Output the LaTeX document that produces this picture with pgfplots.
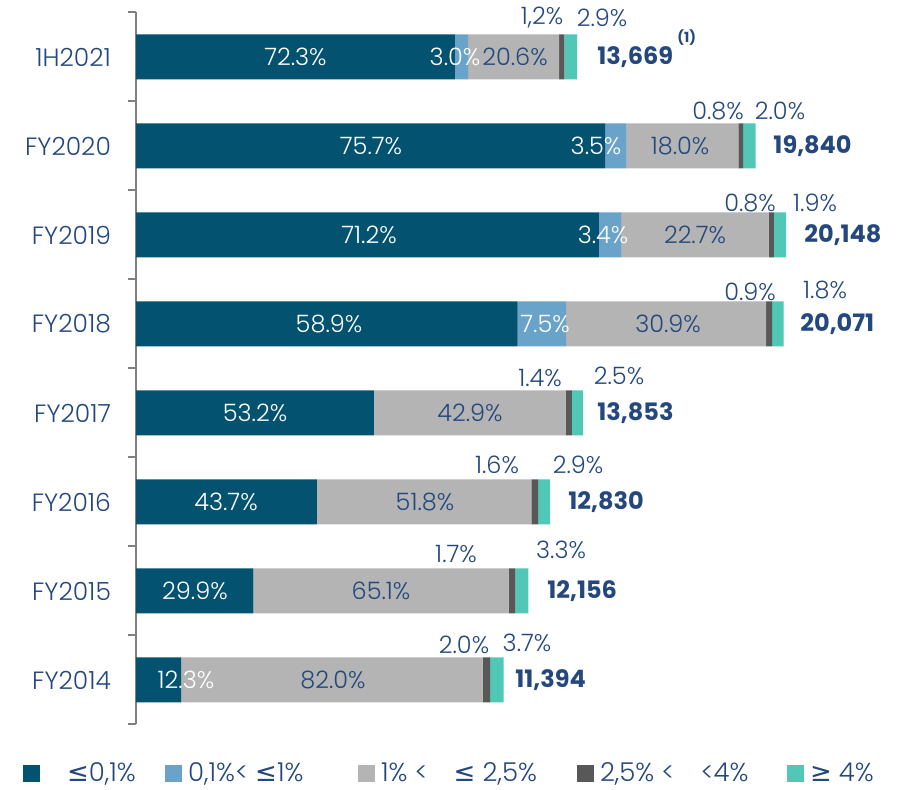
\documentclass[border=0pt]{standalone}
\usepackage{pgfplots}
\pgfplotsset{compat=1.18}
\usepackage{pgfplotstable}
\usepackage{fontspec}
\setmainfont{Poppins}[UprightFont=* Light, BoldFont=* Bold]
\newfontfamily\symfont{DejaVu Sans}
\definecolor{c1}{RGB}{2,82,112}
\definecolor{c2}{RGB}{106,163,202}
\definecolor{c3}{RGB}{179,180,179}
\definecolor{c4}{RGB}{88,88,88}
\definecolor{c5}{RGB}{80,200,181}
\definecolor{txt}{RGB}{36,72,126}
\definecolor{axg}{RGB}{128,128,128}
\newcommand{\lesym}{{\symfont ≤}}
\newcommand{\gesym}{{\symfont ≥}}
\tikzset{
  wl/.style={font=\fontsize{12}{14}\selectfont, text=white, inner sep=0pt},
  bl/.style={font=\fontsize{12}{14}\selectfont, text=txt, inner sep=0pt},
  tl/.style={font=\fontsize{12}{14}\selectfont\bfseries, text=txt, anchor=west, inner sep=0pt},
  sup/.style={font=\fontsize{7}{8}\selectfont\bfseries, text=txt, anchor=west, inner sep=0pt},
}
% y: 0 = FY2014 ... 7 = 1H2021; len = drawn bar length; p1..p5 = shares (%)
\pgfplotstableread{
y len p1 p2 p3 p4 p5
0 11394 12.3 0 82.0 2.0 3.7
1 12156 29.9 0 65.1 1.7 3.3
2 12830 43.7 0 51.8 1.6 2.9
3 13853 53.2 0 42.9 1.4 2.5
4 20071 58.9 7.5 30.9 0.9 1.8
5 20148 71.2 3.4 22.7 0.8 1.9
6 19200 75.7 3.5 18.0 0.8 2.0
7 13669 72.3 3.0 20.6 1.2 2.9
}\data
\newcommand{\barlabels}{%
% 1H2021
\node[wl] at (axis cs:4941,7) {72.3\%};
\node[wl] at (axis cs:9886,7) {3.0\%};
\node[bl] at (axis cs:11745,7) {20.6\%};
\node[bl] at (axis cs:12582,7.438) {1,2\%};
\node[bl] at (axis cs:14441,7.438) {2.9\%};
\node[tl] at (axis cs:14286,7) {13,669};
\node[sup] at (axis cs:16766,7.213) {(1)};
% FY2020
\node[wl] at (axis cs:7283,6) {75.7\%};
\node[wl] at (axis cs:14255,6) {3.5\%};
\node[bl] at (axis cs:16859,6) {18.0\%};
\node[bl] at (axis cs:18036,6.393) {0.8\%};
\node[bl] at (axis cs:19957,6.393) {2.0\%};
\node[tl] at (axis cs:19741,6) {19,840};
% FY2019
\node[wl] at (axis cs:7221,5) {71.2\%};
\node[wl] at (axis cs:14472,5) {3.4\%};
\node[bl] at (axis cs:17323,5) {22.7\%};
\node[bl] at (axis cs:19028,5.36) {0.8\%};
\node[bl] at (axis cs:21042,5.36) {1.9\%};
\node[tl] at (axis cs:20701,5) {20,148};
% FY2018
\node[wl] at (axis cs:5981,4) {58.9\%};
\node[wl] at (axis cs:12675,4) {7.5\%};
\node[bl] at (axis cs:16487,4) {30.9\%};
\node[bl] at (axis cs:19028,4.36) {0.9\%};
\node[bl] at (axis cs:21352,4.38) {1.8\%};
\node[tl] at (axis cs:20577,4) {20,071};
% FY2017
\node[wl] at (axis cs:3688,3) {53.2\%};
\node[bl] at (axis cs:10351,3) {42.9\%};
\node[bl] at (axis cs:12520,3.393) {1.4\%};
\node[bl] at (axis cs:14968,3.416) {2.5\%};
\node[tl] at (axis cs:14286,3) {13,853};
% FY2016
\node[wl] at (axis cs:2789,2) {43.7\%};
\node[bl] at (axis cs:8956,2) {51.8\%};
\node[bl] at (axis cs:11187,2.416) {1.6\%};
\node[bl] at (axis cs:13698,2.416) {2.9\%};
\node[tl] at (axis cs:13388,2) {12,830};
% FY2015
\node[wl] at (axis cs:1828,1) {29.9\%};
\node[bl] at (axis cs:7593,1) {65.1\%};
\node[bl] at (axis cs:9917,1.416) {1.7\%};
\node[bl] at (axis cs:13171,1.46) {3.3\%};
\node[tl] at (axis cs:12737,1) {12,156};
% FY2014
\node[wl] at (axis cs:1550,0) {12.3\%};
\node[bl] at (axis cs:6105,0) {82.0\%};
\node[bl] at (axis cs:10165,0.393) {2.0\%};
\node[bl] at (axis cs:12117,0.416) {3.7\%};
\node[tl] at (axis cs:11745,0) {11,394};
}
\begin{document}
\begin{tikzpicture}
\useasboundingbox (0,0) rectangle (452pt,395pt);
\begin{axis}[
  at={(68pt,388.75pt)}, anchor=north west,
  scale only axis, width=338.85pt, height=356pt,
  xmin=0, xmax=21000, ymin=-0.5, ymax=7.5,
  xbar stacked, bar width=22.5pt,
  axis x line=none, axis y line*=left,
  y axis line style={axg, line width=1pt, -},
  ytick={0,...,7},
  yticklabels={FY2014,FY2015,FY2016,FY2017,FY2018,FY2019,FY2020,1H2021},
  major tick length=0pt,
  minor ytick={-0.5,0.5,...,7.5},
  minor tick length=4pt, tick align=outside,
  minor tick style={axg, line width=1pt},
  yticklabel style={font=\fontsize{12.5}{14}\selectfont, text=txt, xshift=-9pt},
  clip=false,
  legend columns=5,
  legend style={at={(-0.1667,-0.0695)}, anchor=west, draw=none, fill=none,
    inner sep=0pt, outer sep=0pt, column sep=0pt,
    font=\fontsize{13}{15}\selectfont, text=txt,
    nodes={inner sep=0pt},
    /tikz/every odd column/.append style={column sep=3pt},
    /tikz/every even column/.append style={column sep=0pt}},
  legend cell align=left,
  legend image code/.code={\draw[#1,draw=none] (0pt,-4.25pt) rectangle (8.5pt,4.25pt);},
  after end axis/.code={\barlabels},
]
\addplot[fill=c1, draw=none] table[x expr=\thisrow{p1}*\thisrow{len}/100, y=y]{\data};
\addlegendentry{\makebox[59.5pt][l]{\hspace{10.5pt}\lesym0,1\%}}
\addplot[fill=c2, draw=none] table[x expr=\thisrow{p2}*\thisrow{len}/100, y=y]{\data};
\addlegendentry{\makebox[85pt][l]{0,1\%< \lesym1\%}}
\addplot[fill=c3, draw=none] table[x expr=\thisrow{p3}*\thisrow{len}/100, y=y]{\data};
\addlegendentry{\makebox[98pt][l]{1\% <\quad \lesym\ 2,5\%}}
\addplot[fill=c4, draw=none] table[x expr=\thisrow{p4}*\thisrow{len}/100, y=y]{\data};
\addlegendentry{\makebox[93.5pt][l]{2,5\% <\quad <4\%}}
\addplot[fill=c5, draw=none] table[x expr=\thisrow{p5}*\thisrow{len}/100, y=y]{\data};
\addlegendentry{\gesym\ 4\%}
\end{axis}
\end{tikzpicture}
\end{document}
